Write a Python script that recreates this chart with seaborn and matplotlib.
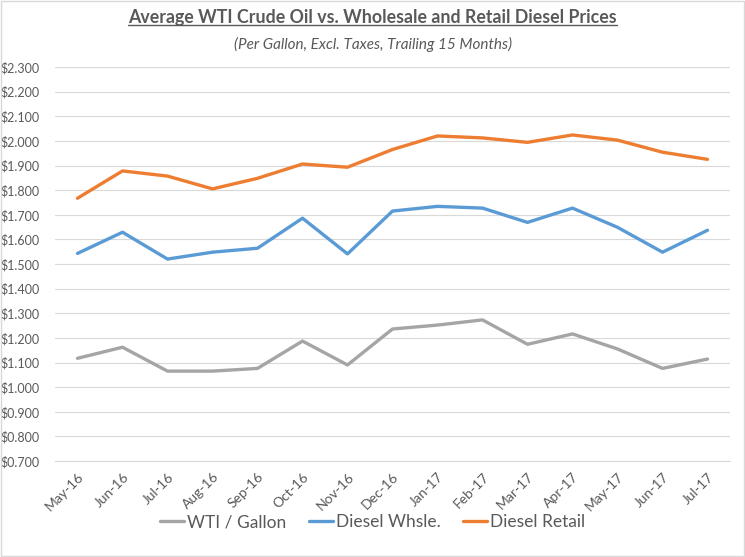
import numpy as np
import pandas as pd
import seaborn as sns
import matplotlib.pyplot as plt
from matplotlib.lines import Line2D
from matplotlib.patches import Rectangle

months = ['May-16', 'Jun-16', 'Jul-16', 'Aug-16', 'Sep-16', 'Oct-16', 'Nov-16', 'Dec-16',
          'Jan-17', 'Feb-17', 'Mar-17', 'Apr-17', 'May-17', 'Jun-17', 'Jul-17']
wti = [1.117, 1.162, 1.065, 1.065, 1.076, 1.187, 1.090, 1.236,
       1.252, 1.273, 1.174, 1.216, 1.155, 1.076, 1.114]
whsle = [1.543, 1.629, 1.520, 1.548, 1.564, 1.686, 1.541, 1.715,
         1.734, 1.727, 1.669, 1.727, 1.649, 1.548, 1.637]
retail = [1.767, 1.878, 1.857, 1.805, 1.848, 1.906, 1.893, 1.965,
          2.020, 2.012, 1.994, 2.024, 2.003, 1.954, 1.925]
series_names = ['WTI / Gallon', 'Diesel Whsle.', 'Diesel Retail']
colors = ['#A5A5A5', '#5B9BD5', '#ED7D31']
yticks = np.arange(0.7, 2.3001, 0.1)

df = pd.DataFrame({
    'pos': list(range(len(months))) * 3,
    'price': wti + whsle + retail,
    'series': np.repeat(series_names, len(months)),
})

sns.set_style('white')
plt.rcParams['font.family'] = ['Lato', 'DejaVu Sans']

fig = plt.figure(figsize=(7.45, 5.57), dpi=100)
ax = fig.add_axes([55 / 745, 1 - 461 / 557, 675 / 745, 394 / 557])

sns.lineplot(data=df, x='pos', y='price', hue='series', palette=colors,
             hue_order=series_names, linewidth=2.4, sort=False, ax=ax, legend=False)

ax.set_xlim(-0.5, len(months) - 0.5)
ax.set_ylim(0.7, 2.3)
ax.set_yticks(yticks)
ax.set_yticklabels(['${:.3f}'.format(v) for v in yticks], color='#595959', fontsize=9)
ax.yaxis.grid(True, color='#D9D9D9', linewidth=0.8)
ax.tick_params(axis='y', length=0, pad=11)

ax.set_xticks(np.arange(len(months)))
ax.set_xticklabels(months, rotation=45, ha='right', rotation_mode='anchor',
                   color='#595959', fontsize=10)
ax.set_xticks(np.arange(-0.5, len(months)), minor=True)
ax.tick_params(axis='x', which='major', length=0, pad=7)
ax.tick_params(axis='x', which='minor', length=5, color='#D9D9D9', width=0.8, direction='out')
ax.set_xlabel('')
ax.set_ylabel('')
for s in ['top', 'right', 'left']:
    ax.spines[s].set_visible(False)
ax.spines['bottom'].set_color('#D9D9D9')
ax.spines['bottom'].set_linewidth(0.8)

# title with underline
title = fig.text(0.5, 1 - 18 / 557, 'Average WTI Crude Oil vs. Wholesale and Retail Diesel Prices',
                 ha='center', va='center', fontsize=12.8, fontweight='bold', color='#595959')
fig.text(0.5, 1 - 44 / 557, '(Per Gallon, Excl. Taxes, Trailing 15 Months)',
         ha='center', va='center', fontsize=11, style='italic', color='#595959')
fig.canvas.draw()
bb = title.get_window_extent().transformed(fig.transFigure.inverted())
fig.add_artist(Line2D([bb.x0, bb.x1], [bb.y0 + 0.002, bb.y0 + 0.002],
                      transform=fig.transFigure, color='#595959', linewidth=1))

handles = [Line2D([0], [0], color=c, linewidth=2.4) for c in colors]
fig.legend(handles, series_names, loc='center', bbox_to_anchor=(0.5, 1 - 522 / 557),
           ncol=3, frameon=False, fontsize=12.5, handlelength=1.4, handletextpad=0.15,
           columnspacing=1.3, labelcolor='#595959')

fig.add_artist(Rectangle((0.001, 0.001), 0.997, 0.997, transform=fig.transFigure,
                         fill=False, edgecolor='#D9D9D9', linewidth=1))

fig.savefig('out.png', dpi=100)
